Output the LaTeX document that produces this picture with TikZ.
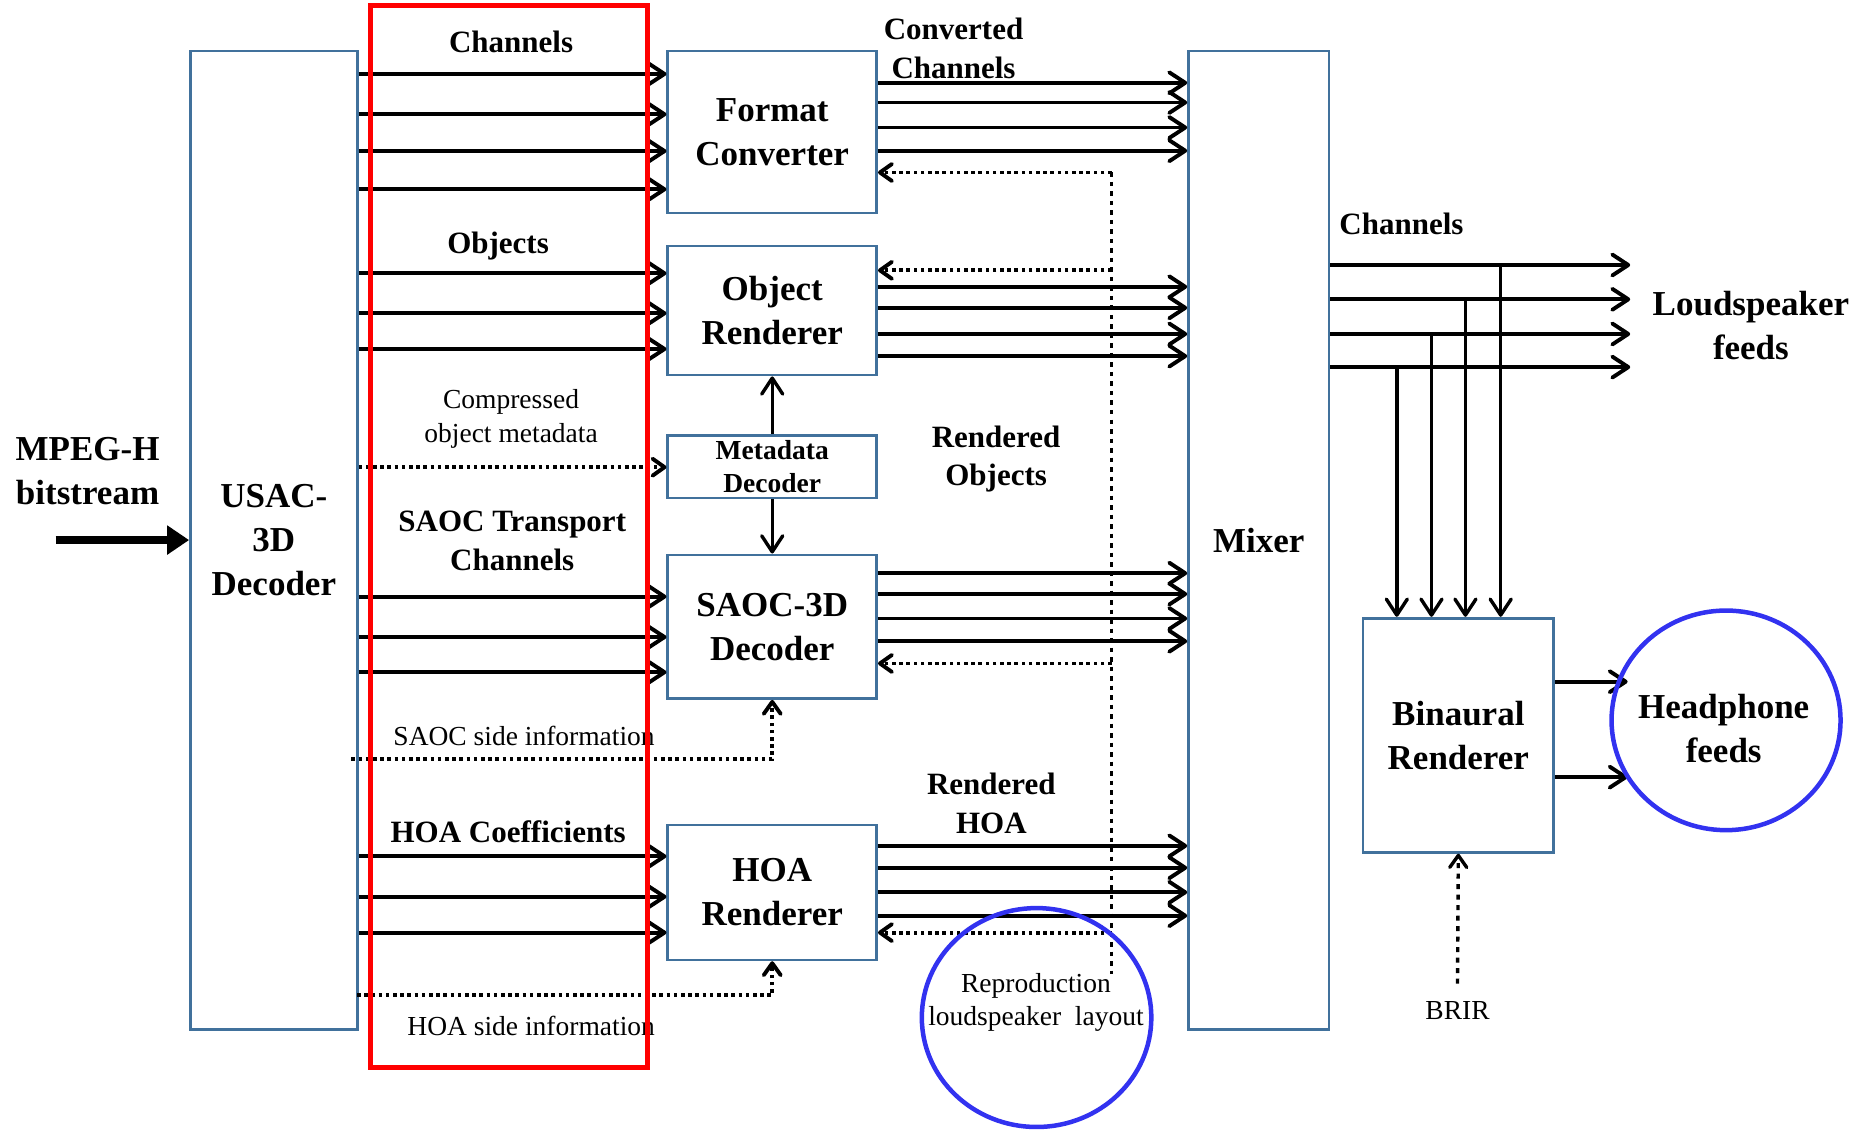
\documentclass[tikz,border=0pt]{standalone}
\usepackage{fontspec}
\setmainfont{Liberation Serif}
\usetikzlibrary{arrows.meta,shapes.geometric}
\definecolor{boxblue}{RGB}{65,113,156}
\definecolor{ringblue}{RGB}{50,50,240}
\newcommand\bigf{\fontsize{35}{44}\selectfont\bfseries}
\newcommand\medf{\fontsize{31}{38.5}\selectfont\bfseries}
\newcommand\smallb{\fontsize{27.5}{33}\selectfont\bfseries}
\newcommand\smallr{\fontsize{27.5}{33.5}\selectfont}
\tikzset{
 box/.style={draw=boxblue, line width=2.7pt, inner sep=0pt, align=center, font=\bigf},
 lbl/.style={align=center, inner sep=0pt, font=\medf},
 ring/.style={ellipse, draw=ringblue, line width=4.5pt, inner sep=0pt},
 barb/.style={-{Straight Barb[length=16pt,width=21pt,round]}},
 sbarb/.style={-{Straight Barb[length=12pt,width=17pt,round]}},
 arr/.style={line width=3.9pt, barb},
 dotarr/.style={line width=3.9pt, dash pattern=on 3.6pt off 3.6pt, sbarb},
 vdot/.style={line width=3pt, dash pattern=on 4.5pt off 5pt},
 brirline/.style={line width=3.4pt, dash pattern=on 5pt off 5.5pt, sbarb},
}
\begin{document}
\begin{tikzpicture}[x=1.183pt,y=-1.183pt]
\useasboundingbox (0,0) rectangle (1568,957);
% boxes
\node[box, minimum width=166.8pt, minimum height=978.3pt] (usac) at (231.5,456.5) {USAC-\\3D\\Decoder};
\node[box, minimum width=208.8pt, minimum height=162.1pt] (fc) at (652.75,111.5) {Format\\Converter};
\node[box, minimum width=208.8pt, minimum height=129pt] (or) at (652.75,262.5) {Object\\Renderer};
\node[box, font=\smallb, minimum width=208.8pt, minimum height=62.7pt] (md) at (652.75,394.5) {Metadata\\Decoder};
\node[box, minimum width=208.8pt, minimum height=143.7pt] (saoc) at (652.75,529.75) {SAOC-3D\\Decoder};
\node[box, minimum width=208.8pt, minimum height=134.9pt] (hoa) at (652.75,754.35) {HOA\\Renderer};
\node[box, minimum width=140.4pt, minimum height=978.3pt] (mix) at (1064,456.5) {Mixer};
\node[box, minimum width=190.9pt, minimum height=234.2pt] (bin) at (1232.7,621.5) {Binaural\\Renderer};
% labels
\node[lbl] (lchan) at (432,35) {Channels};
\node[lbl] (lobj) at (421,208) {Objects};
\node[lbl, font=\smallr] (lcomp) at (432,354) {Compressed\\object metadata};
\node[lbl] (lsaoct) at (433,457) {SAOC Transport\\Channels};
\node[lbl, font=\smallr] (lsaocs) at (443,622) {SAOC side information};
\node[lbl] (lhoac) at (429.5,703) {HOA Coefficients};
\node[lbl, font=\smallr] (lhoas) at (449,867.5) {HOA side information};
\node[lbl, font=\bigf] (lmpeg) at (74,398) {MPEG-H\\bitstream};
\node[lbl] (lconv) at (806,41) {Converted\\Channels};
\node[lbl] (lrobj) at (842,388) {Rendered\\Objects};
\node[lbl] (lrhoa) at (838,679) {Rendered\\HOA};
\node[lbl] (lchout) at (1184.6,189.6) {Channels};
\node[lbl, font=\bigf] (lls) at (1480,275.5) {Loudspeaker\\feeds};
\node[lbl, font=\smallr] (lbrir) at (1232,854) {BRIR};
\node[lbl, font=\smallr] (lrep) at (875.7,847.4) {Reproduction\\loudspeaker\ \ layout};
\node[lbl, font=\bigf] (lhp) at (1457,616) {Headphone\\feeds};
% input
\coordinate (in) at (47,456.5);
\draw[line width=8pt, -{Triangle[length=22pt,width=28pt]}] (in) -- (usac.west);
% decoder outputs
\foreach \y in {62.5,96.6,127.7,160} \draw[arr] (usac.east |- 0,\y) -- (fc.west |- 0,\y);
\foreach \y in {231,264.8,295} \draw[arr] (usac.east |- 0,\y) -- (or.west |- 0,\y);
\draw[dotarr] (usac.east |- 0,394.9) -- (md.west |- 0,394.9);
\foreach \y in {504.3,538.5,568.2} \draw[arr] (usac.east |- 0,\y) -- (saoc.west |- 0,\y);
\coordinate (ss) at (297,641.6);
\draw[dotarr] (ss) -- (saoc.south |- ss) -- (saoc.south);
\foreach \y in {723.8,758,788.3} \draw[arr] (usac.east |- 0,\y) -- (hoa.west |- 0,\y);
\coordinate (hs) at (301.8,841);
\draw[dotarr] (hs) -- (hoa.south |- hs) -- (hoa.south);
% metadata
\draw[arr, line width=3.4pt] (md.north) -- (or.south);
\draw[arr, line width=3.4pt] (md.south) -- (saoc.north);
% renderer outputs
\foreach \y in {70,86.6,107.8,127.4} \draw[arr] (fc.east |- 0,\y) -- (mix.west |- 0,\y);
\foreach \y in {242.4,260.2,282.3,301} \draw[arr] (or.east |- 0,\y) -- (mix.west |- 0,\y);
\foreach \y in {484.5,502.1,522.8,542} \draw[arr] (saoc.east |- 0,\y) -- (mix.west |- 0,\y);
\foreach \y in {715,733.5,754.2,774} \draw[arr] (hoa.east |- 0,\y) -- (mix.west |- 0,\y);
% layout
\coordinate (lt) at (939.6,145.8);
\coordinate (lb) at (939.6,823.5);
\draw[vdot] (lt) -- (lb);
\draw[dotarr] (lt) -- (fc.east |- lt);
\draw[dotarr] (lt |- 0,228.5) -- (or.east |- 0,228.5);
\draw[dotarr] (lt |- 0,560.8) -- (saoc.east |- 0,560.8);
\draw[dotarr] (lt |- 0,788.3) -- (hoa.east |- 0,788.3);
% mixer outputs
\coordinate (ls1) at (1378,224);
\coordinate (ls2) at (1378,253);
\coordinate (ls3) at (1378,282.3);
\coordinate (ls4) at (1378,310.3);
\foreach \c in {ls1,ls2,ls3,ls4} \draw[arr] (mix.east |- \c) -- (\c);
\foreach \x/\y in {1268.5/224,1238.7/253,1210/282.3,1180.7/310.3} \draw[arr, line width=3.4pt] (\x,\y) -- (bin.north -| \x,0);
% binaural
\coordinate (h1) at (1375.8,576.2);
\coordinate (h2) at (1375.8,656.9);
\draw[arr] (bin.east |- h1) -- (h1);
\draw[arr] (bin.east |- h2) -- (h2);
\coordinate (br) at (1232,831.4);
\draw[brirline] (br) -- (bin.south);
% circles
\node[ring, minimum width=229pt, minimum height=219.6pt] (hp) at (1459,608.9) {};
\node[ring, minimum width=229.5pt, minimum height=218.9pt] (rep) at (876.2,860.1) {};
% red frame
\node[draw=red, line width=5pt, inner sep=0pt, minimum width=277.3pt, minimum height=1062.5pt] (redbox) at (430.2,453.55) {};
\end{tikzpicture}
\end{document}
